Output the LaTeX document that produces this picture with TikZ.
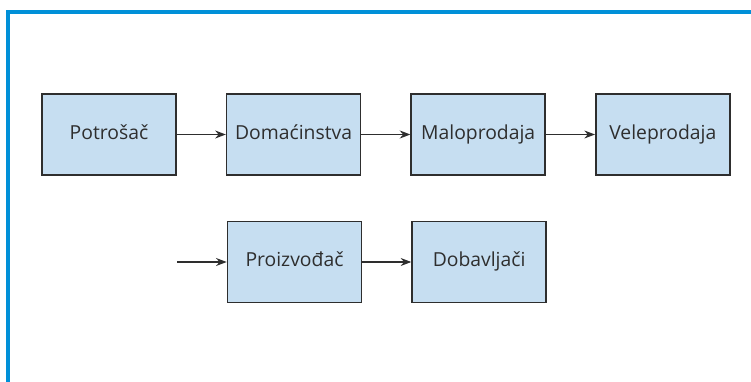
\documentclass[tikz,border=0pt]{standalone}
\usepackage{fontspec}
\setmainfont{Open Sans}
\usetikzlibrary{positioning,arrows.meta}
\definecolor{frameblue}{HTML}{0090D8}
\definecolor{boxblue}{HTML}{C6DEF1}
\definecolor{boxline}{HTML}{2E2E2E}
\tikzset{
    chainbox/.style={draw=boxline,fill=boxblue,line width=1.2pt,minimum width=100.5pt,minimum height=60.75pt,inner sep=0pt,text height=10.5pt,text depth=3.5pt,font=\fontsize{14.5}{16}\selectfont,text=boxline},
    flow/.style={->,line width=0.8pt,draw=boxline}
}
\begin{document}
\begin{tikzpicture}[>={Stealth[length=8pt,width=6pt]},x=0.75pt,y=-0.75pt,node distance=36.75pt]
        \useasboundingbox (0,0) rectangle (751,382);
        % frame
        \draw[frameblue,line width=3pt](751,12)--(8,12)--(8,382);
        % first row
        \node[chainbox](pot) at (109,134.5){Potrošač};
        \node[chainbox,right=of pot](dom){Domaćinstva};
        \node[chainbox,right=of dom](malo){Maloprodaja};
        \node[chainbox,right=of malo](vele){Veleprodaja};
        % second row
        \node[chainbox](proi) at (294.5,262){Proizvođač};
        \node[chainbox,right=of proi](dob){Dobavljači};
        \coordinate(ulaz) at (177,262);
        \draw[flow](pot)--(dom);
        \draw[flow](dom)--(malo);
        \draw[flow](malo)--(vele);
        \draw[flow](ulaz)--(proi);
        \draw[flow](proi)--(dob);
\end{tikzpicture}
\end{document}
